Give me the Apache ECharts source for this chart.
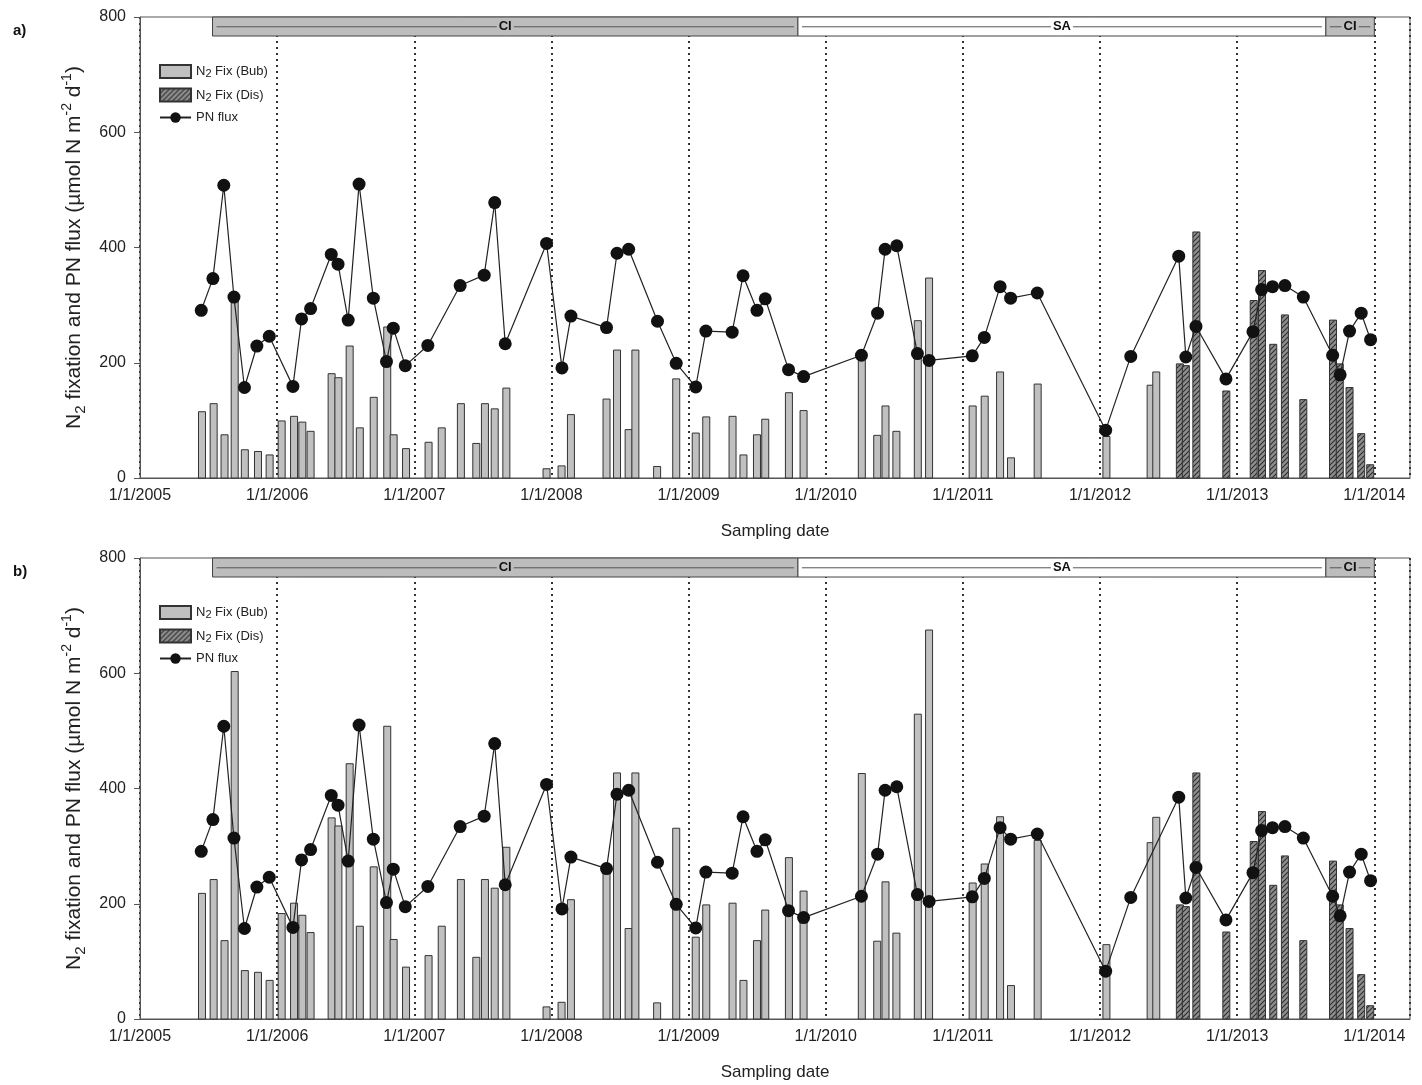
<!DOCTYPE html>
<html lang="en">
<head>
  <meta charset="UTF-8">
  <title>N2 fixation and PN flux</title>
  <style>
    body { margin: 0; padding: 0; background: #fff; }
    #chart { width: 1422px; height: 1085px; }
  </style>
</head>
<body>
  <div id="chart"></div>

  <script src="https://cdn.jsdelivr.net/npm/echarts@6/dist/echarts.min.js"></script>
  <script>
    // PN flux (same in both panels)
    var pnDates = ['2005-06-13','2005-07-14','2005-08-12','2005-09-08','2005-10-06','2005-11-08','2005-12-11',
      '2006-02-12','2006-03-07','2006-03-31','2006-05-25','2006-06-12','2006-07-09','2006-08-07','2006-09-14','2006-10-19','2006-11-06','2006-12-08',
      '2007-02-06','2007-05-03','2007-07-06','2007-08-03','2007-08-31','2007-12-19',
      '2008-01-29','2008-02-22','2008-05-27','2008-06-24','2008-07-25','2008-10-10','2008-11-29',
      '2009-01-20','2009-02-16','2009-04-27','2009-05-26','2009-07-02','2009-07-24','2009-09-24','2009-11-03',
      '2010-04-06','2010-05-19','2010-06-08','2010-07-09','2010-09-02','2010-10-03',
      '2011-01-26','2011-02-27','2011-04-10','2011-05-08','2011-07-18',
      '2012-01-16','2012-03-23','2012-07-29','2012-08-17','2012-09-13','2012-12-02',
      '2013-02-12','2013-03-07','2013-04-05','2013-05-08','2013-06-26','2013-09-12','2013-10-02','2013-10-27','2013-11-27','2013-12-22'];
    var pnFlux = [291,346,508,314,157,229,246,
      159,276,294,388,371,274,510,312,202,260,195,
      230,334,352,478,233,407,
      191,281,261,390,397,272,199,
      158,255,253,351,291,311,188,176,
      213,286,397,403,216,204,
      212,244,332,312,321,
      83,211,385,210,263,172,
      254,327,332,334,314,213,179,255,286,240];

    // N2 fixation, bubble method: panel a) and panel b)
    var bubDates = ['2005-06-15','2005-07-16','2005-08-14','2005-09-10','2005-10-07','2005-11-11','2005-12-12',
      '2006-01-13','2006-02-15','2006-03-09','2006-03-31','2006-05-26','2006-06-13','2006-07-13','2006-08-09','2006-09-15','2006-10-21','2006-11-07','2006-12-10',
      '2007-02-08','2007-03-15','2007-05-05','2007-06-15','2007-07-08','2007-08-03','2007-09-03','2007-12-19',
      '2008-01-28','2008-02-22','2008-05-27','2008-06-24','2008-07-25','2008-08-12','2008-10-09','2008-11-29',
      '2009-01-20','2009-02-17','2009-04-28','2009-05-27','2009-07-02','2009-07-24','2009-09-25','2009-11-03',
      '2010-04-07','2010-05-18','2010-06-09','2010-07-08','2010-09-03','2010-10-03',
      '2011-01-27','2011-02-28','2011-04-10','2011-05-09','2011-07-19',
      '2012-01-18','2012-05-15','2012-05-30'];
    var bubA = [115,129,75,311,49,46,40,
      99,107,97,81,181,174,229,87,140,262,75,51,
      62,87,129,60,129,120,156,16,
      21,110,137,222,84,222,20,172,
      78,106,107,40,75,102,148,117,
      213,74,125,81,273,347,
      125,142,184,35,163,
      72,161,184];
    var bubB = [218,242,136,603,84,81,67,
      183,201,180,150,349,335,443,161,264,508,138,90,
      110,161,242,107,242,227,298,21,
      29,207,260,427,157,427,28,331,
      142,198,201,67,136,189,280,222,
      426,135,238,149,529,675,
      236,269,351,58,310,
      129,306,350];

    // N2 fixation, dissolved method (same in both panels)
    var disDates = ['2012-08-01','2012-08-17','2012-09-14','2012-12-03',
      '2013-02-14','2013-03-08','2013-04-07','2013-05-08','2013-06-26',
      '2013-09-13','2013-10-01','2013-10-27','2013-11-27','2013-12-21'];
    var disFix = [198,195,427,151,308,360,232,283,136,274,198,157,77,23];

    // regime bands across the top
    var bandStart = ['2005-07-13','2009-10-19','2013-08-25'];
    var bandEnd = ['2009-10-19','2013-08-25','2014-01-01'];
    var bandLabel = ['CI','SA','CI'];

    var FONT = 'Liberation Sans, Arial, Helvetica, sans-serif';
    var BAR_W = 7;

    function toYear(s) {
      var p = s.split('-');
      var y = +p[0];
      var t = Date.UTC(y, +p[1] - 1, +p[2]);
      var t0 = Date.UTC(y, 0, 1), t1 = Date.UTC(y + 1, 0, 1);
      return y + (t - t0) / (t1 - t0);
    }
    function pairs(dates, vals) {
      return dates.map(function (d, i) { return [toYear(d), vals[i]]; });
    }

    // hatch pattern for the dissolved bars
    var hc = document.createElement('canvas');
    hc.width = 5; hc.height = 5;
    var hx = hc.getContext('2d');
    hx.fillStyle = '#8e8e8e';
    hx.fillRect(0, 0, 5, 5);
    hx.strokeStyle = '#2e2e2e';
    hx.lineWidth = 1.1;
    hx.beginPath();
    hx.moveTo(0, 5); hx.lineTo(5, 0);
    hx.moveTo(-1, 1); hx.lineTo(1, -1);
    hx.moveTo(4, 6); hx.lineTo(6, 4);
    hx.stroke();
    var hatch = { image: hc, repeat: 'repeat' };

    function barRenderer(fill) {
      return function (params, api) {
        var x = api.value(0), v = api.value(1);
        var base = api.coord([x, 0]), top = api.coord([x, v]);
        return {
          type: 'rect',
          shape: { x: base[0] - BAR_W / 2, y: top[1], width: BAR_W, height: base[1] - top[1] },
          style: { fill: fill, stroke: '#333', lineWidth: 1 }
        };
      };
    }

    function renderBand(params, api) {
      var tl = api.coord([api.value(0), 800]);
      var br = api.coord([api.value(1), 767]);
      var midY = api.coord([api.value(0), 783])[1];
      var label = bandLabel[params.dataIndex];
      var fill = label === 'CI' ? '#bdbdbd' : '#fff';
      return {
        type: 'group',
        children: [
          { type: 'rect', shape: { x: tl[0], y: tl[1], width: br[0] - tl[0], height: br[1] - tl[1] },
            style: { fill: fill, stroke: '#444', lineWidth: 1 } },
          { type: 'line', shape: { x1: tl[0] + 4, y1: midY, x2: br[0] - 4, y2: midY },
            style: { stroke: '#555', lineWidth: 1 } },
          { type: 'text', x: (tl[0] + br[0]) / 2, y: midY,
            style: { text: label, fill: '#111', font: 'bold 13px ' + FONT, align: 'center',
                     verticalAlign: 'middle', backgroundColor: fill, padding: [0, 2] } }
        ]
      };
    }

    var bandData = bandStart.map(function (s, i) { return [toYear(s), toYear(bandEnd[i])]; });
    var NAMES = ['N2 Fix (Bub)', 'N2 Fix (Dis)', 'PN flux'];
    var legendText = {
      'N2 Fix (Bub)': '{t|N}{s|2}{t| Fix (Bub)}',
      'N2 Fix (Dis)': '{t|N}{s|2}{t| Fix (Dis)}',
      'PN flux': '{t|PN flux}'
    };

    var tops = [17, 558];
    var grids = [], xAxes = [], yAxes = [], legends = [], titles = [], series = [];
    [bubA, bubB].forEach(function (bub, g) {
      grids.push({ left: 140, right: 12, top: tops[g], height: 461, show: true,
                   borderColor: '#555', borderWidth: 1 });
      xAxes.push({
        type: 'value', gridIndex: g, min: 2005, max: 2014.26, interval: 1,
        name: 'Sampling date', nameLocation: 'middle', nameGap: 45,
        nameTextStyle: { fontFamily: FONT, fontSize: 17, color: '#222' },
        axisLine: { lineStyle: { color: '#555' } },
        axisTick: { show: false },
        axisLabel: {
          margin: 10, fontFamily: FONT, fontSize: 16, color: '#222',
          formatter: function (v) { return Math.abs(v - Math.round(v)) < 1e-6 ? '1/1/' + Math.round(v) : ''; }
        },
        splitLine: { show: true, lineStyle: { type: [2, 4], color: '#333', width: 2 } }
      });
      yAxes.push({
        type: 'value', gridIndex: g, min: 0, max: 800, interval: 200,
        name: '{t|N}{s|2}{t| fixation and PN flux (\u00b5mol N m}{p|-2}{t| d}{p|-1}{t|)}',
        nameLocation: 'middle', nameGap: 48,
        nameTextStyle: {
          fontFamily: FONT, color: '#222',
          rich: {
            t: { fontFamily: FONT, fontSize: 21, lineHeight: 28, color: '#222' },
            s: { fontFamily: FONT, fontSize: 15, lineHeight: 15, verticalAlign: 'bottom', color: '#222' },
            p: { fontFamily: FONT, fontSize: 14, lineHeight: 14, verticalAlign: 'top', color: '#222' }
          }
        },
        axisLine: { show: true, lineStyle: { color: '#555' } },
        axisTick: { show: true, inside: false, length: 6, lineStyle: { color: '#555' } },
        axisLabel: { margin: 14, fontFamily: FONT, fontSize: 16, color: '#222' },
        splitLine: { show: false }
      });
      legends.push({
        left: 154, top: tops[g] + 42, orient: 'vertical',
        itemWidth: 31, itemHeight: 13, itemGap: 8,
        data: [
          { name: NAMES[0], icon: 'rect' },
          { name: NAMES[1], icon: 'rect' },
          { name: NAMES[2] }
        ],
        formatter: function (n) { return legendText[n]; },
        textStyle: {
          rich: {
            t: { fontFamily: FONT, fontSize: 13, lineHeight: 16, color: '#222' },
            s: { fontFamily: FONT, fontSize: 11, lineHeight: 11, verticalAlign: 'bottom', color: '#222' }
          }
        }
      });
      titles.push({ text: g === 0 ? 'a)' : 'b)', left: 8, top: tops[g] + 1,
                    textStyle: { fontFamily: FONT, fontSize: 15, fontWeight: 'bold', color: '#111' } });

      series.push({
        name: NAMES[0], type: 'custom', xAxisIndex: g, yAxisIndex: g,
        renderItem: barRenderer('#c0c0c0'),
        itemStyle: { color: '#c0c0c0', borderColor: '#333', borderWidth: 1 },
        encode: { x: 0, y: 1 }, data: pairs(bubDates, bub), z: 2
      });
      series.push({
        name: NAMES[1], type: 'custom', xAxisIndex: g, yAxisIndex: g,
        renderItem: barRenderer(hatch),
        itemStyle: { color: hatch, borderColor: '#333', borderWidth: 1 },
        encode: { x: 0, y: 1 }, data: pairs(disDates, disFix), z: 3
      });
      series.push({
        name: NAMES[2], type: 'line', xAxisIndex: g, yAxisIndex: g,
        data: pairs(pnDates, pnFlux),
        symbol: 'circle', symbolSize: 13, showSymbol: true,
        itemStyle: { color: '#111' },
        lineStyle: { color: '#222', width: 1.2 },
        z: 4, animation: false
      });
      series.push({
        name: 'band', type: 'custom', xAxisIndex: g, yAxisIndex: g,
        renderItem: renderBand, encode: { x: [0, 1] }, data: bandData, z: 5, silent: true
      });
    });

    var chart = echarts.init(document.getElementById('chart'));
    chart.setOption({
      animation: false,
      title: titles,
      legend: legends,
      grid: grids,
      xAxis: xAxes,
      yAxis: yAxes,
      series: series
    });
  </script>
</body>
</html>
